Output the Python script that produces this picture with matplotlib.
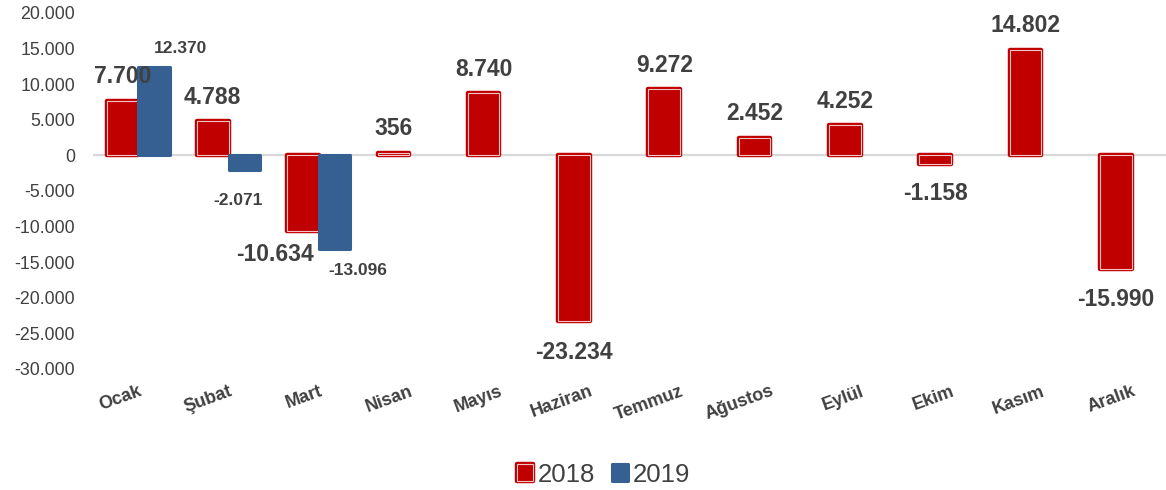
import matplotlib
matplotlib.use('Agg')
import matplotlib.pyplot as plt
import matplotlib.patheffects as pe
from matplotlib.patches import Patch
from matplotlib.ticker import FuncFormatter
import numpy as np

plt.rcParams['font.family'] = ['Liberation Sans', 'DejaVu Sans']

# aylik degisim verileri
months = ['Ocak', 'Şubat', 'Mart', 'Nisan', 'Mayıs', 'Haziran', 'Temmuz',
          'Ağustos', 'Eylül', 'Ekim', 'Kasım', 'Aralık']
v2018 = [7700, 4788, -10634, 356, 8740, -23234, 9272, 2452, 4252, -1158, 14802, -15990]
v2019 = [12370, -2071, -13096]

RED = '#C00000'
BLUE = '#376092'
TXT = '#404040'

def tr(v):
    # turkish style thousands separator
    return '{:,.0f}'.format(v).replace(',', '.')

fig = plt.figure(figsize=(11.66, 4.9), dpi=100)
ax = fig.add_axes([0.0798, 0.247, 0.9202, 0.7265])

x = np.arange(len(months))
w = 0.35

ax.axhline(0, color='#D9D9D9', lw=1.6, zorder=1)

red_fx = [pe.Stroke(linewidth=3.2, foreground=RED, joinstyle='round'), pe.Normal()]
blue_fx = [pe.Stroke(linewidth=2.2, foreground=BLUE, joinstyle='round'), pe.Normal()]

ax.bar(x - w / 2, v2018, w, color=RED, edgecolor='#F2C4C4', lw=0.8,
       path_effects=red_fx, zorder=2)
ax.bar(x[:len(v2019)] + w / 2, v2019, w, color=BLUE, edgecolor=BLUE, lw=0.5,
       path_effects=blue_fx, zorder=3)

# data labels (offsets in pixels, like the manually moved excel labels)
px = 0.72
for i, v in enumerate(v2018):
    dx, dy = (0, 24) if v >= 0 else (0, -30)
    if i == 2:
        dx, dy = -28, -23
    if i == 5:
        dy = -32
    ax.annotate(tr(v), (i - w / 2, v), xytext=(dx * px, dy * px),
                textcoords='offset points', ha='center', va='center',
                fontsize=16.5, fontweight='bold', color=TXT, zorder=5)

offs19 = [(26, 19), (-6, -30), (23, -22)]
for i, v in enumerate(v2019):
    dx, dy = offs19[i]
    ax.annotate(tr(v), (i + w / 2, v), xytext=(dx * px, dy * px),
                textcoords='offset points', ha='center', va='center',
                fontsize=12.5, fontweight='bold', color=TXT, zorder=5)

ax.set_xlim(-0.5, 11.38)
ax.set_ylim(-30000, 20000)
ax.set_yticks(np.arange(-30000, 20001, 5000))
ax.yaxis.set_major_formatter(FuncFormatter(lambda v, p: tr(v)))
ax.tick_params(axis='y', length=0, pad=13, labelsize=12.8, labelcolor=TXT)
ax.tick_params(axis='x', length=0, pad=10)
ax.set_xticks(x)
ax.set_xticklabels(months, rotation=20, ha='right', va='top',
                   rotation_mode='anchor', fontsize=13, fontweight='bold', color=TXT)
for s in ax.spines.values():
    s.set_visible(False)

handles = [Patch(facecolor=RED, edgecolor='#F2C4C4', lw=0.8, path_effects=red_fx, label='2018'),
           Patch(facecolor=BLUE, edgecolor=BLUE, lw=0.5, path_effects=blue_fx, label='2019')]
fig.legend(handles=handles, loc='center', bbox_to_anchor=(0.5176, 0.031), ncol=2,
           frameon=False, fontsize=18.5, labelcolor=TXT, handlelength=0.62,
           handleheight=0.62, handletextpad=0.2, columnspacing=0.65)

fig.savefig('out.png', dpi=100)
